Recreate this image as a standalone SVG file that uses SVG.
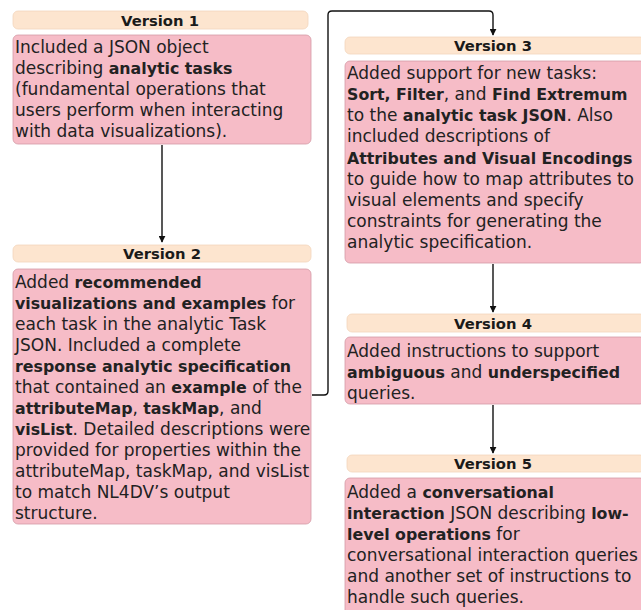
<svg xmlns="http://www.w3.org/2000/svg" width="641" height="610" viewBox="0 0 641 610">
<style>
.hdr{fill:#fde5cf;stroke:#f3d6bd;stroke-width:0.8}
.body{fill:#f6bcc7;stroke:#d49aa6;stroke-width:0.8}
.ht{font-family:"DejaVu Sans",sans-serif;font-size:14.8px;font-weight:bold;fill:#1a1a1a;text-anchor:middle}
.bt{font-family:"DejaVu Sans",sans-serif;font-size:17px;fill:#222}
.b{font-weight:bold;font-size:15.8px}
.conn{fill:none;stroke:#111;stroke-width:1.4}
</style>
<defs>
<marker id="ah" viewBox="0 0 10 10" refX="9" refY="5" markerWidth="7" markerHeight="7" orient="auto" markerUnits="userSpaceOnUse">
<path d="M0,0 L10,5 L0,10 z" fill="#111"/>
</marker>
</defs>
<g id="connectors">
<path class="conn" d="M162,145 V242" marker-end="url(#ah)"/>
<path class="conn" d="M312,395 H324 Q328,395 328,391 V15 Q328,11 332,11 H489 Q493,11 493,15 V35" marker-end="url(#ah)"/>
<path class="conn" d="M493,264 V312" marker-end="url(#ah)"/>
<path class="conn" d="M493,405 V453" marker-end="url(#ah)"/>
</g>
<g id="v1">
<rect class="hdr" x="13" y="11" width="295" height="18" rx="5"/>
<text class="ht" x="160" y="25.5">Version 1</text>
<rect class="body" x="13" y="35" width="298" height="109" rx="5"/>
<text class="bt" x="15">
<tspan x="15" y="53">Included a JSON object</tspan>
<tspan x="15" y="74">describing <tspan class="b">analytic tasks</tspan></tspan>
<tspan x="15" y="95">(fundamental operations that</tspan>
<tspan x="15" y="116">users perform when interacting</tspan>
<tspan x="15" y="137">with data visualizations).</tspan>
</text>
</g>
<g id="v2">
<rect class="hdr" x="13" y="245" width="298" height="17" rx="5"/>
<text class="ht" x="162" y="258.5">Version 2</text>
<rect class="body" x="13" y="269" width="298" height="255" rx="5"/>
<text class="bt">
<tspan x="15" y="288">Added <tspan class="b">recommended</tspan></tspan>
<tspan x="15" y="309"><tspan class="b">visualizations and examples</tspan> for</tspan>
<tspan x="15" y="330">each task in the analytic Task</tspan>
<tspan x="15" y="351">JSON. Included a complete</tspan>
<tspan x="15" y="372"><tspan class="b">response analytic specification</tspan></tspan>
<tspan x="15" y="393">that contained an <tspan class="b">example</tspan> of the</tspan>
<tspan x="15" y="414"><tspan class="b">attributeMap</tspan>, <tspan class="b">taskMap</tspan>, and</tspan>
<tspan x="15" y="435"><tspan class="b">visList</tspan>. Detailed descriptions were</tspan>
<tspan x="15" y="456">provided for properties within the</tspan>
<tspan x="15" y="477">attributeMap, taskMap, and visList</tspan>
<tspan x="15" y="498">to match NL4DV’s output</tspan>
<tspan x="15" y="519">structure.</tspan>
</text>
</g>
<g id="v3">
<rect class="hdr" x="345" y="37" width="300" height="17" rx="5"/>
<text class="ht" x="493" y="50.5">Version 3</text>
<rect class="body" x="345" y="61" width="300" height="202" rx="5"/>
<text class="bt">
<tspan x="347" y="79">Added support for new tasks:</tspan>
<tspan x="347" y="100"><tspan class="b">Sort, Filter</tspan>, and <tspan class="b">Find Extremum</tspan></tspan>
<tspan x="347" y="121">to the <tspan class="b">analytic task JSON</tspan>. Also</tspan>
<tspan x="347" y="142">included descriptions of</tspan>
<tspan x="347" y="164"><tspan class="b">Attributes and Visual Encodings</tspan></tspan>
<tspan x="347" y="185">to guide how to map attributes to</tspan>
<tspan x="347" y="206">visual elements and specify</tspan>
<tspan x="347" y="227">constraints for generating the</tspan>
<tspan x="347" y="248">analytic specification.</tspan>
</text>
</g>
<g id="v4">
<rect class="hdr" x="347" y="314" width="298" height="18" rx="5"/>
<text class="ht" x="493" y="328.5">Version 4</text>
<rect class="body" x="345" y="337" width="300" height="67" rx="5"/>
<text class="bt">
<tspan x="347" y="357">Added instructions to support</tspan>
<tspan x="347" y="378"><tspan class="b">ambiguous</tspan> and <tspan class="b">underspecified</tspan></tspan>
<tspan x="347" y="399">queries.</tspan>
</text>
</g>
<g id="v5">
<rect class="hdr" x="347" y="455" width="298" height="17" rx="5"/>
<text class="ht" x="493" y="468.5">Version 5</text>
<rect class="body" x="345" y="478" width="300" height="140" rx="5"/>
<text class="bt">
<tspan x="347" y="498">Added a <tspan class="b">conversational</tspan></tspan>
<tspan x="347" y="519"><tspan class="b">interaction</tspan> JSON describing <tspan class="b">low-</tspan></tspan>
<tspan x="347" y="540"><tspan class="b">level operations</tspan> for</tspan>
<tspan x="347" y="561">conversational interaction queries</tspan>
<tspan x="347" y="582">and another set of instructions to</tspan>
<tspan x="347" y="603">handle such queries.</tspan>
</text>
</g>
</svg>
